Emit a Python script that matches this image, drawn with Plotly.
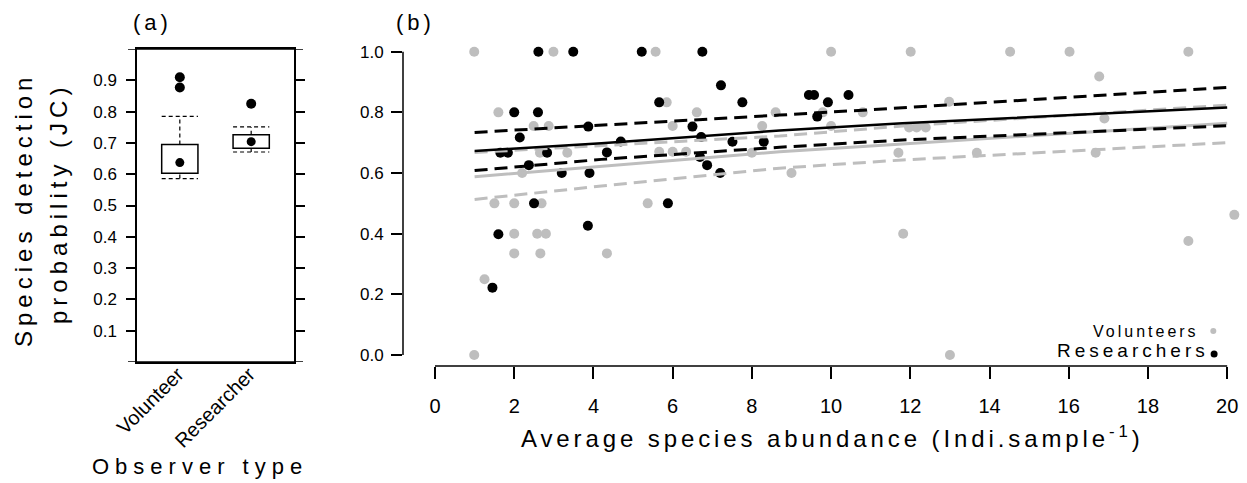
import plotly.graph_objects as go

W, H = 1247, 483

# ---- Panel (a): detection probability by observer type ----
observer_types = ["Volunteer", "Researcher"]
box_q1 = [0.603, 0.683]
box_q3 = [0.695, 0.726]
whisker_low = [0.586, 0.671]
whisker_high = [0.785, 0.751]
box_means = [0.637, 0.704]
outlier_pos = [1, 1, 2]
outlier_val = [0.910, 0.877, 0.825]

# ---- Panel (b): detection probability vs. average abundance ----
vol_x = [0.99, 2.99, 5.57, 10.0, 12.01, 14.52, 16.02, 19.02,
         16.77, 5.85, 12.98,
         1.60, 6.61, 8.60, 9.79, 10.80, 16.90,
         2.49, 2.87, 6.00, 8.26, 10.00, 11.97, 12.16, 12.39,
         2.65, 3.34, 5.66, 6.00, 6.34, 8.00, 11.70, 13.68, 16.68,
         2.20, 9.00,
         1.50, 2.00, 2.69, 5.37,
         2.00, 2.58, 2.80, 11.82,
         2.00, 2.66, 4.34,
         1.25, 0.99, 13.00, 20.18, 19.02]
vol_y = [1.0, 1.0, 1.0, 1.0, 1.0, 1.0, 1.0, 1.0,
         0.918, 0.833, 0.835,
         0.800, 0.800, 0.800, 0.800, 0.800, 0.780,
         0.755, 0.755, 0.755, 0.755, 0.755, 0.750, 0.750, 0.750,
         0.667, 0.667, 0.670, 0.670, 0.670, 0.667, 0.667, 0.667, 0.667,
         0.600, 0.600,
         0.500, 0.500, 0.500, 0.500,
         0.400, 0.400, 0.400, 0.400,
         0.335, 0.335, 0.335,
         0.250, 0.000, 0.000, 0.462, 0.376]

res_x = [2.61, 3.49, 5.22, 6.75,
         7.22, 9.44, 9.57, 10.44,
         5.66, 7.76, 9.92,
         2.00, 2.60, 9.65,
         3.87, 6.50,
         2.14, 6.72,
         4.69, 7.51, 8.30,
         1.65, 1.84, 2.83, 4.34,
         6.69, 2.37, 6.87,
         3.20, 3.90, 7.20,
         2.50, 5.88,
         3.86, 1.60, 1.45]
res_y = [1.0, 1.0, 1.0, 1.0,
         0.889, 0.857, 0.857, 0.857,
         0.833, 0.833, 0.833,
         0.800, 0.800, 0.786,
         0.753, 0.753,
         0.717, 0.719,
         0.704, 0.703, 0.703,
         0.667, 0.667, 0.667, 0.668,
         0.653, 0.626, 0.626,
         0.600, 0.600, 0.600,
         0.500, 0.500,
         0.426, 0.398, 0.222]

# fitted curves and 95% bands
fit_x = [1, 4.2, 8.7, 11.8, 20]
res_fit = [0.673, 0.698, 0.740, 0.764, 0.816]
res_upper = [0.734, 0.757, 0.791, 0.815, 0.882]
res_lower = [0.608, 0.645, 0.685, 0.709, 0.756]
vol_fit = [0.588, 0.623, 0.670, 0.696, 0.764]
vol_upper = [0.668, 0.690, 0.722, 0.755, 0.824]
vol_lower = [0.513, 0.557, 0.616, 0.643, 0.700]

x_ticks = list(range(0, 21, 2))
y_ticks_b = [0.0, 0.2, 0.4, 0.6, 0.8, 1.0]
y_ticks_a = [0.1, 0.2, 0.3, 0.4, 0.5, 0.6, 0.7, 0.8, 0.9]

GREY = "#BEBEBE"
FONT = "Liberation Sans"


def spaced(txt, px):
    return f'<span style="letter-spacing:{px}px">{txt}</span>'


def px_x(p):
    return p / W


def px_y(p):
    return 1 - p / H


fig = go.Figure()

# panel (a) markers
fig.add_trace(go.Scatter(x=[1, 2], y=box_means, mode="markers",
                         marker=dict(color="black", size=9),
                         xaxis="x", yaxis="y", showlegend=False))
fig.add_trace(go.Scatter(x=outlier_pos, y=outlier_val, mode="markers",
                         marker=dict(color="black", size=10),
                         xaxis="x", yaxis="y", showlegend=False))

# panel (b) points
fig.add_trace(go.Scatter(x=vol_x, y=vol_y, mode="markers",
                         marker=dict(color=GREY, size=10),
                         xaxis="x2", yaxis="y2", showlegend=False))
fig.add_trace(go.Scatter(x=res_x, y=res_y, mode="markers",
                         marker=dict(color="black", size=10),
                         xaxis="x2", yaxis="y2", showlegend=False))

# panel (b) fitted lines
for ys, col, dash, w in [(vol_upper, GREY, "13px,7px", 3),
                         (vol_lower, GREY, "13px,7px", 3),
                         (vol_fit, GREY, "solid", 3),
                         (res_upper, "black", "13px,7px", 3),
                         (res_lower, "black", "13px,7px", 3),
                         (res_fit, "black", "solid", 2.5)]:
    fig.add_trace(go.Scatter(x=fit_x, y=ys, mode="lines",
                             line=dict(color=col, dash=dash, width=w),
                             xaxis="x2", yaxis="y2", showlegend=False))

# legend markers
fig.add_trace(go.Scatter(x=[19.65], y=[0.079], mode="markers",
                         marker=dict(color=GREY, size=6),
                         xaxis="x2", yaxis="y2", showlegend=False))
fig.add_trace(go.Scatter(x=[19.67], y=[0.003], mode="markers",
                         marker=dict(color="black", size=7),
                         xaxis="x2", yaxis="y2", showlegend=False))

shapes = []
half = 0.254
for i in range(2):
    c = i + 1
    shapes.append(dict(type="rect", xref="x", yref="y",
                       x0=c - half, x1=c + half, y0=box_q1[i], y1=box_q3[i],
                       line=dict(color="black", width=1.5)))
    for y0, y1 in [(box_q3[i], whisker_high[i]), (whisker_low[i], box_q1[i])]:
        shapes.append(dict(type="line", xref="x", yref="y", x0=c, x1=c,
                           y0=y0, y1=y1,
                           line=dict(color="black", width=1.2, dash="4px,3px")))
    for yv in [whisker_high[i], whisker_low[i]]:
        shapes.append(dict(type="line", xref="x", yref="y",
                           x0=c - half, x1=c + half, y0=yv, y1=yv,
                           line=dict(color="black", width=1.2, dash="4px,3px")))

# panel (a): frame top/bottom carry tick marks at 0 and 1 on both sides
for yv in (0, 1):
    shapes.append(dict(type="line", xref="paper", yref="y",
                       x0=px_x(128), x1=px_x(303), y0=yv, y1=yv,
                       line=dict(color="black", width=1.5)))

# panel (b) axis lines spanning the data range only
shapes.append(dict(type="line", xref="x2", yref="y2 domain", x0=0, x1=20,
                   y0=0, y1=0, line=dict(color="black", width=1.5)))
shapes.append(dict(type="line", xref="x2 domain", yref="y2", x0=0, x1=0,
                   y0=0, y1=1, line=dict(color="black", width=1.5)))


def note(text, x, y, size, xanchor="center", angle=0):
    return dict(text=text, x=px_x(x), y=px_y(y), xref="paper", yref="paper",
                xanchor=xanchor, yanchor="middle", textangle=angle,
                showarrow=False, borderpad=0,
                font=dict(size=size, family=FONT, color="black"))


annotations = [
    note(spaced("(a)", 4), 152, 22, 22),
    note(spaced("(b)", 4), 415, 22, 22),
    note(spaced("Species detection", 5), 24, 210, 24, angle=-90),
    note(spaced("probability (JC)", 5), 58, 204, 24, angle=-90),
    note(spaced("Observer type", 6), 200, 466, 22),
    note(spaced("Average species abundance (Indi.sample<sup>-1</sup>)", 3.9), 832, 437, 24),
    note(spaced("Volunteers", 3), 1200, 331, 16, xanchor="right"),
    note(spaced("Researchers", 4), 1210, 350, 19, xanchor="right"),
]

tick_font = dict(size=17, family=FONT, color="black")

fig.update_layout(
    width=W, height=H, margin=dict(l=0, r=0, t=0, b=0, autoexpand=False),
    paper_bgcolor="white", plot_bgcolor="white",
    shapes=shapes, annotations=annotations,
    xaxis=dict(domain=[px_x(137), px_x(294)], range=[0.4, 2.6], anchor="y",
               tickvals=[1, 2], ticktext=observer_types, tickangle=-45,
               ticks="", showline=True, mirror=True, linecolor="black", linewidth=1.5,
               showgrid=False, zeroline=False, automargin=False,
               tickfont=dict(size=20, family=FONT, color="black"),
               ticklabelstandoff=-9, ticklabelshift=-2),
    yaxis=dict(domain=[px_y(362), px_y(49)], range=[0, 1], anchor="x",
               tickvals=y_ticks_a, ticktext=[f"{v:.1f}" for v in y_ticks_a],
               ticks="outside", ticklen=9, tickwidth=1.5, tickcolor="black",
               showline=True, mirror="ticks", linecolor="black", linewidth=1.5,
               showgrid=False, zeroline=False, automargin=False, tickfont=tick_font,
               ticklabelstandoff=6),
    xaxis2=dict(domain=[px_x(403), px_x(1245)], range=[-0.808, 20.45], anchor="y2",
                tickvals=x_ticks, ticktext=[str(v) for v in x_ticks],
                ticks="outside", ticklen=12, tickwidth=1.5, tickcolor="black",
                showline=False, showgrid=False, zeroline=False, automargin=False,
                tickfont=dict(size=20, family=FONT, color="black"),
                ticklabelstandoff=10),
    yaxis2=dict(domain=[px_y(366), px_y(40)], range=[-0.0363, 1.0386], anchor="x2",
                tickvals=y_ticks_b, ticktext=[f"{v:.1f}" for v in y_ticks_b],
                ticks="outside", ticklen=11, tickwidth=1.5, tickcolor="black",
                showline=False, showgrid=False, zeroline=False, automargin=False,
                tickfont=tick_font, ticklabelstandoff=4),
)

fig.write_html("out.html")
